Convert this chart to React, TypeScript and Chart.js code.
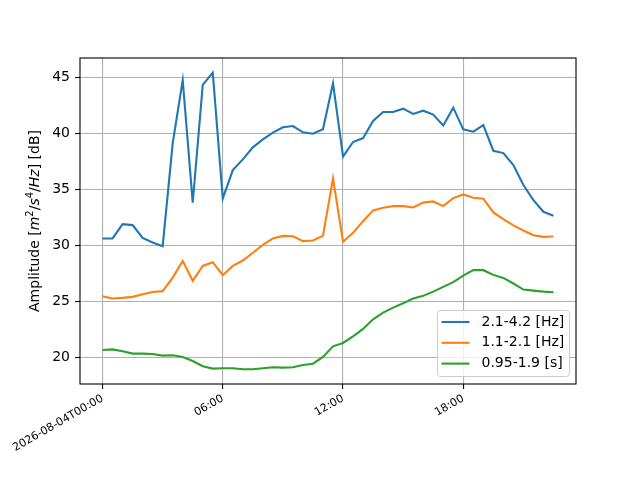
import React, { useEffect, useRef } from 'react';
import { Chart, registerables } from 'chart.js';

Chart.register(...registerables);

// --- data (one sample every 30 min, 2026-08-04) ---
const times = [
  '00:00', '00:30', '01:00', '01:30', '02:00', '02:30', '03:00', '03:30', '04:00', '04:30', '05:00', '05:30',
  '06:00', '06:30', '07:00', '07:30', '08:00', '08:30', '09:00', '09:30', '10:00', '10:30', '11:00', '11:30',
  '12:00', '12:30', '13:00', '13:30', '14:00', '14:30', '15:00', '15:30', '16:00', '16:30', '17:00', '17:30',
  '18:00', '18:30', '19:00', '19:30', '20:00', '20:30', '21:00', '21:30', '22:00', '22:30',
];

const band1 = [
  30.63, 30.63, 31.9, 31.82, 30.68, 30.27, 29.94, 39.11, 44.76, 33.81, 44.32, 45.42,
  34.2, 36.73, 37.68, 38.75, 39.46, 40.06, 40.54, 40.65, 40.09, 39.97, 40.36, 44.46,
  37.92, 39.23, 39.58, 41.1, 41.9, 41.9, 42.2, 41.73, 42.02, 41.67, 40.71, 42.29,
  40.36, 40.15, 40.74, 38.45, 38.24, 37.17, 35.39, 34.05, 33.01, 32.65,
];

const band2 = [
  25.48, 25.27, 25.33, 25.42, 25.65, 25.85, 25.93, 27.14, 28.63, 26.85, 28.18, 28.51,
  27.35, 28.18, 28.66, 29.35, 30.06, 30.63, 30.86, 30.83, 30.39, 30.45, 30.86, 35.98,
  30.33, 31.13, 32.17, 33.13, 33.36, 33.51, 33.51, 33.39, 33.84, 33.93, 33.51, 34.23,
  34.55, 34.26, 34.17, 32.95, 32.35, 31.79, 31.34, 30.92, 30.77, 30.8,
];

const band3 = [
  20.68, 20.74, 20.57, 20.36, 20.36, 20.33, 20.18, 20.21, 20.06, 19.7, 19.23, 19.02,
  19.05, 19.05, 18.96, 18.96, 19.05, 19.14, 19.11, 19.14, 19.35, 19.46, 20.06, 21.01,
  21.31, 21.9, 22.56, 23.42, 24.02, 24.46, 24.85, 25.27, 25.51, 25.89, 26.31, 26.73,
  27.32, 27.8, 27.8, 27.38, 27.11, 26.61, 26.07, 25.98, 25.89, 25.83,
];

const seriesLabels = ['2.1-4.2 [Hz]', '1.1-2.1 [Hz]', '0.95-1.9 [s]'];
const seriesColors = ['#1f77b4', '#ff7f0e', '#2ca02c'];

const xTickHours = [0, 6, 12, 18];
const xTickLabels = ['2026-08-04T00:00', '06:00', '12:00', '18:00'];
const yTicks = [20, 25, 30, 35, 40, 45];

const FONT = "'DejaVu Sans', sans-serif";

const toHours = (t: string) => {
  const [h, m] = t.split(':').map(Number);
  return h + m / 60;
};

// frame (all four spines) drawn over the lines like matplotlib
const framePlugin = {
  id: 'frame',
  afterDatasetsDraw(chart: any) {
    const { ctx, chartArea: a } = chart;
    ctx.save();
    ctx.strokeStyle = '#000';
    ctx.lineWidth = 1.1;
    ctx.strokeRect(a.left, a.top, a.right - a.left, a.bottom - a.top);
    ctx.restore();
  },
};

// legend box in the lower right corner of the plot
const legendPlugin = {
  id: 'mplLegend',
  afterDatasetsDraw(chart: any) {
    const { ctx, chartArea: a } = chart;
    const right = a.right - 6.5;
    const bottom = a.bottom - 7.5;
    const w = 132;
    const h = 66;
    const left = right - w;
    const top = bottom - h;
    ctx.save();
    ctx.beginPath();
    ctx.roundRect(left, top, w, h, 3);
    ctx.fillStyle = 'rgba(255,255,255,0.8)';
    ctx.fill();
    ctx.strokeStyle = '#cccccc';
    ctx.lineWidth = 1;
    ctx.stroke();
    ctx.font = `14px ${FONT}`;
    ctx.textBaseline = 'middle';
    ctx.textAlign = 'left';
    chart.data.datasets.forEach((ds: any, i: number) => {
      const y = top + 11.5 + i * 20.8;
      ctx.strokeStyle = ds.borderColor;
      ctx.lineWidth = 2.1;
      ctx.beginPath();
      ctx.moveTo(left + 4, y);
      ctx.lineTo(left + 32, y);
      ctx.stroke();
      ctx.fillStyle = '#000';
      ctx.fillText(ds.label, left + 44, y);
    });
    ctx.restore();
  },
};

// y axis label with italic / superscript parts
const yTitlePlugin = {
  id: 'yTitle',
  afterDraw(chart: any) {
    const { ctx, chartArea: a } = chart;
    const segs = [
      { t: 'Amplitude [', it: false, sup: false },
      { t: 'm', it: true, sup: false },
      { t: '2', it: false, sup: true },
      { t: '/', it: false, sup: false },
      { t: 's', it: true, sup: false },
      { t: '4', it: false, sup: true },
      { t: '/', it: false, sup: false },
      { t: 'Hz', it: true, sup: false },
      { t: '] [dB]', it: false, sup: false },
    ];
    const fontOf = (s: any) => `${s.it ? 'oblique ' : ''}${s.sup ? 10 : 14}px ${FONT}`;
    ctx.save();
    let total = 0;
    const widths = segs.map((s) => {
      ctx.font = fontOf(s);
      const w = ctx.measureText(s.t).width;
      total += w;
      return w;
    });
    ctx.translate(38.5, (a.top + a.bottom) / 2);
    ctx.rotate(-Math.PI / 2);
    ctx.fillStyle = '#000';
    ctx.textBaseline = 'alphabetic';
    ctx.textAlign = 'left';
    let x = -total / 2;
    segs.forEach((s, i) => {
      ctx.font = fontOf(s);
      ctx.fillText(s.t, x, s.sup ? -6 : 0);
      x += widths[i];
    });
    ctx.restore();
  },
};

export default function App() {
  const canvasRef = useRef<HTMLCanvasElement>(null);

  useEffect(() => {
    document.body.style.margin = '0';
    const ctx = canvasRef.current?.getContext('2d');
    if (!ctx) return;

    const hours = times.map(toHours);
    const mk = (vals: number[]) => vals.map((v, i) => ({ x: hours[i], y: v }));
    const allSeries = [band1, band2, band3];

    const chart = new Chart(ctx, {
      type: 'line',
      data: {
        datasets: allSeries.map((vals, i) => ({
          label: seriesLabels[i],
          data: mk(vals),
          borderColor: seriesColors[i],
          backgroundColor: seriesColors[i],
          borderWidth: 2.1,
          pointRadius: 0,
          tension: 0,
          fill: false,
        })),
      },
      options: {
        responsive: false,
        animation: false,
        devicePixelRatio: 1,
        layout: { padding: { left: 0, right: 64, top: 58, bottom: 0 } },
        plugins: { legend: { display: false }, tooltip: { enabled: false } },
        scales: {
          x: {
            type: 'linear',
            min: -1.125,
            max: 23.625,
            afterFit: (s: any) => { s.height = 96; },
            afterBuildTicks: (s: any) => { s.ticks = xTickHours.map((v) => ({ value: v })); },
            grid: { color: '#b0b0b0', lineWidth: 1.1, tickColor: '#000', tickWidth: 1.1, tickLength: 5 },
            border: { display: false },
            ticks: {
              autoSkip: false,
              minRotation: 30,
              maxRotation: 30,
              padding: 3,
              color: '#000',
              font: { family: FONT, size: 11 },
              callback: (v: any) => xTickLabels[xTickHours.indexOf(Number(v))] ?? '',
            },
          },
          y: {
            type: 'linear',
            min: 17.65,
            max: 46.72,
            afterFit: (s: any) => { s.width = 80; },
            afterBuildTicks: (s: any) => { s.ticks = yTicks.map((v) => ({ value: v })); },
            grid: { color: '#b0b0b0', lineWidth: 1.1, tickColor: '#000', tickWidth: 1.1, tickLength: 5 },
            border: { display: false },
            ticks: {
              padding: 5,
              color: '#000',
              font: { family: FONT, size: 14 },
            },
          },
        },
      },
      plugins: [framePlugin, legendPlugin, yTitlePlugin],
    });

    return () => chart.destroy();
  }, []);

  return (
    <div style={{ width: 640, height: 480, background: '#fff' }}>
      <canvas ref={canvasRef} width={640} height={480}></canvas>
    </div>
  );
}
